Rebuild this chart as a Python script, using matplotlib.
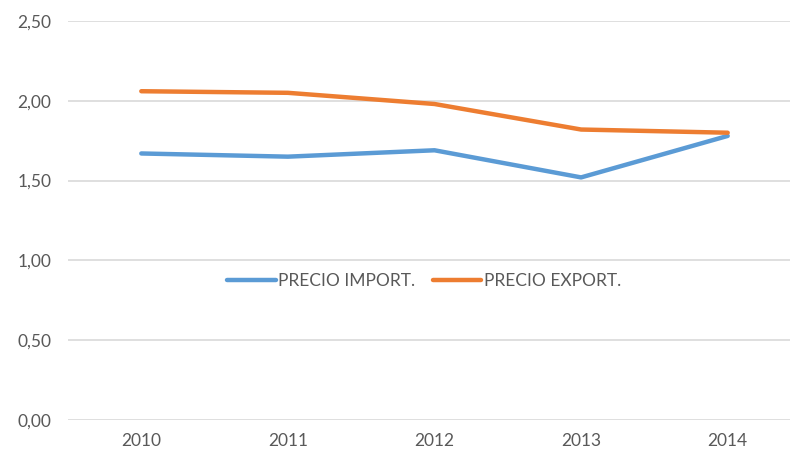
import matplotlib
matplotlib.use("Agg")
import matplotlib.pyplot as plt
from matplotlib.ticker import FuncFormatter

years = ["2010", "2011", "2012", "2013", "2014"]
precio_import = [1.67, 1.65, 1.69, 1.52, 1.78]
precio_export = [2.06, 2.05, 1.98, 1.82, 1.80]
y_ticks = [0.0, 0.5, 1.0, 1.5, 2.0, 2.5]

plt.rcParams['font.family'] = ['Lato', 'DejaVu Sans']

fig = plt.figure(figsize=(7.9, 4.53), dpi=100)
ax = fig.add_axes([68/790, 33/453, 733/790, 399/453])

x = list(range(len(years)))
ax.plot(x, precio_import, color="#5B9BD5", lw=3.2, solid_capstyle="round", label="PRECIO IMPORT.")
ax.plot(x, precio_export, color="#ED7D31", lw=3.2, solid_capstyle="round", label="PRECIO EXPORT.")

ax.set_xlim(-0.5, len(years) - 0.5)
ax.set_ylim(0, 2.5)
ax.set_yticks(y_ticks)
ax.yaxis.set_major_formatter(FuncFormatter(lambda v, p: f"{v:.2f}".replace(".", ",")))
ax.set_xticks(x)
ax.set_xticklabels(years)
ax.grid(axis="y", color="#D9D9D9", lw=1.2)
ax.set_axisbelow(True)
for s in ax.spines.values():
    s.set_visible(False)
ax.tick_params(length=0, labelsize=12.5, colors="#595959", pad=12)
ax.tick_params(axis="x", pad=9)

leg = ax.legend(loc="center", bbox_to_anchor=(424/790, 1 - 281/453), bbox_transform=fig.transFigure,
                ncol=2, frameon=False, fontsize=12.5, handlelength=2.8, handletextpad=0.15,
                columnspacing=1.0, labelcolor="#595959")

fig.savefig("out.png", dpi=100)
